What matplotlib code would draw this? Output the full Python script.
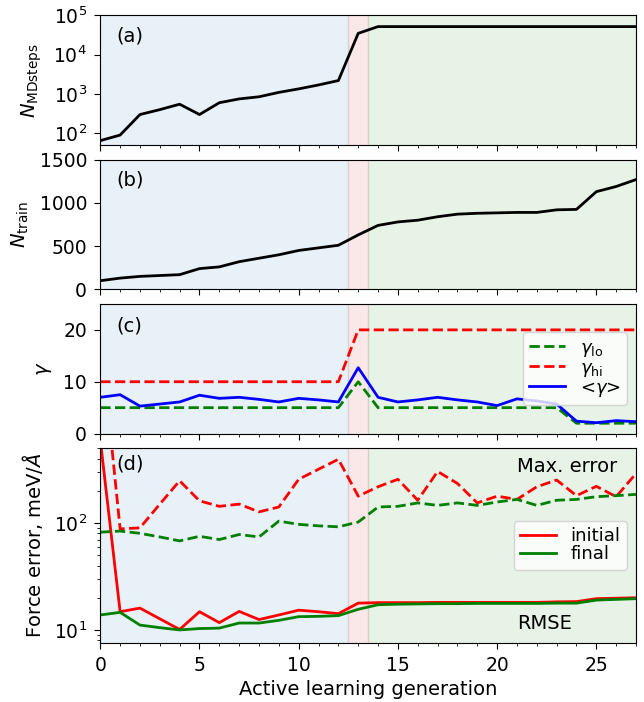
import numpy as np
import matplotlib
matplotlib.use("Agg")
import matplotlib.pyplot as plt
import matplotlib.gridspec as gridspec
from matplotlib.ticker import NullLocator, MultipleLocator

plt.rcParams['font.size'] = 14
plt.rcParams['xtick.labelsize'] = 13.5
plt.rcParams['ytick.labelsize'] = 13.5
plt.rcParams['xtick.major.pad'] = 5.5
plt.rcParams['ytick.major.pad'] = 5.5
plt.rcParams['xtick.major.size'] = 4
plt.rcParams['ytick.major.size'] = 4
plt.rcParams['axes.labelpad'] = 6.5

gen = np.arange(28)
md_steps = [65, 90, 300, 400, 550, 300, 600, 750, 850, 1100, 1350, 1700, 2200,
            35000] + [52000] * 14
n_train = [100, 130, 150, 160, 170, 240, 260, 320, 360, 400, 450, 480, 510, 630,
           740, 780, 800, 840, 870, 880, 885, 890, 890, 920, 925, 1130, 1190, 1270]
gamma_lo = [5] * 13 + [10] + [5] * 10 + [2] * 4
gamma_hi = [10] * 13 + [20] * 15
gamma_mean = [7.0, 7.5, 5.3, 5.7, 6.1, 7.4, 6.8, 7.0, 6.6, 6.1, 6.8, 6.5, 6.1, 12.7,
              7.0, 6.1, 6.5, 7.0, 6.5, 6.1, 5.4, 6.7, 6.3, 5.7, 2.4, 2.1, 2.5, 2.3]
rmse_init = [600, 14.8, 16.0, 12.7, 10.1, 14.8, 11.7, 14.9, 12.5, 13.8, 15.3, 14.8, 14.2,
             17.8, 18.0, 18.0, 18.0, 18.1, 18.1, 18.1, 18.1, 18.1, 18.1, 18.3, 18.4,
             19.6, 19.8, 20.0]
rmse_final = [13.8, 14.6, 11.1, 10.5, 10.0, 10.3, 10.4, 11.6, 11.6, 12.3, 13.3, 13.4,
              13.6, 15.6, 17.2, 17.4, 17.5, 17.6, 17.6, 17.7, 17.7, 17.7, 17.7, 17.8,
              17.8, 19.0, 19.3, 19.6]
max_init = [6000, 88, 90, 150, 248, 161, 143, 150, 127, 141, 256, 318, 394, 178, 218,
            256, 163, 303, 234, 154, 178, 166, 218, 252, 180, 220, 176, 290]
max_final = [82, 84, 80, 74, 68, 75, 70, 78, 74, 104, 97, 94, 92, 102, 141, 143, 154,
             146, 154, 146, 157, 166, 146, 163, 166, 176, 180, 185]

fig = plt.figure(figsize=(6.44, 7.02), dpi=100)
gs = gridspec.GridSpec(4, 1, height_ratios=[1, 1, 1, 1.5], hspace=0.1,
                       left=0.1557, right=0.9876, top=0.978, bottom=0.0845)
axes = [fig.add_subplot(gs[i]) for i in range(4)]


def shade(ax):
    ax.axvspan(0, 12.5, color='C0', alpha=0.1)
    ax.axvspan(12.5, 13.5, color='C3', alpha=0.1)
    ax.axvspan(13.5, 27, color='green', alpha=0.09)
    ax.set_xlim(0, 27)
    ax.xaxis.set_minor_locator(MultipleLocator(1))


for ax in axes:
    shade(ax)
for ax in axes[:3]:
    ax.set_xticklabels([])

leg_kw = dict(loc='center right', fontsize=13, labelspacing=0.0, borderpad=0.35)

# (a)
ax = axes[0]
ax.plot(gen, md_steps, 'k-', lw=2)
ax.set_yscale('log')
ax.set_ylim(50, 1e5)
ax.set_yticks([1e2, 1e3, 1e4, 1e5])
ax.yaxis.set_minor_locator(NullLocator())
ax.set_ylabel(r'$N_{\rm MDsteps}$')
ax.text(0.03, 0.8, '(a)', transform=ax.transAxes)

# (b)
ax = axes[1]
ax.plot(gen, n_train, 'k-', lw=2)
ax.set_ylim(0, 1500)
ax.set_yticks([0, 500, 1000, 1500])
ax.set_ylabel(r'$N_{\rm train}$')
ax.text(0.03, 0.8, '(b)', transform=ax.transAxes)

# (c)
ax = axes[2]
ax.plot(gen, gamma_lo, 'g--', lw=2, label=r'$\gamma_{\rm lo}$')
ax.plot(gen, gamma_hi, 'r--', lw=2, label=r'$\gamma_{\rm hi}$')
ax.plot(gen, gamma_mean, 'b-', lw=2, label=r'<$\gamma$>')
ax.set_ylim(0, 25)
ax.set_yticks([0, 10, 20])
ax.set_ylabel(r'$\gamma$')
ax.text(0.03, 0.79, '(c)', transform=ax.transAxes)
ax.legend(**leg_kw)

# (d)
ax = axes[3]
ax.plot(gen, rmse_init, 'r-', lw=2, label='initial')
ax.plot(gen, rmse_final, 'g-', lw=2, label='final')
ax.plot(gen, max_init, 'r--', lw=2)
ax.plot(gen, max_final, 'g--', lw=2)
ax.set_yscale('log')
ax.set_ylim(7.6, 500)
ax.set_ylabel(r'Force error, meV/$Å$')
ax.set_xlabel('Active learning generation', labelpad=4)
ax.text(0.03, 0.89, '(d)', transform=ax.transAxes)
ax.text(21, 340, 'Max. error', va='center')
ax.text(21, 11.4, 'RMSE', va='center')
ax.legend(**leg_kw)

fig.savefig('out.png', dpi=100)
